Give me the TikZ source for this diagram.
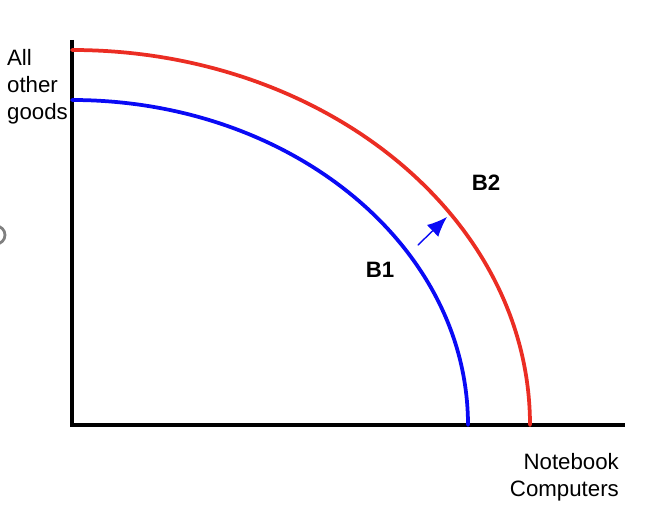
\documentclass[tikz,border=0pt]{standalone}
\usepackage{fontspec}
\setmainfont{Liberation Sans}
\usetikzlibrary{arrows.meta}

\definecolor{bred}{RGB}{235,45,35}
\definecolor{bblue}{RGB}{10,10,245}

\begin{document}
\begin{tikzpicture}[%
        > = {Latex[length = 17pt, width = 14pt]},
        line cap = round,
        x = 0.03cm,
        y = 0.03cm,
        axis/.style = {line width = 3.2pt, black, line cap = butt},
        curve/.style = {line width = 3.2pt},
        label/.style = {font = \fontsize{19}{23}\selectfont}
    ]

        % Fix the page size.
        \useasboundingbox (0, 0) rectangle (662, 518);

        % coordinates
        \coordinate (O) at (72, 93); % Origin.
        \coordinate (Y) at (72, 478); % Top of vertical axis.
        \coordinate (X) at (625, 93); % End of horizontal axis.
        \coordinate (R) at (72, 468); % Start of curve B2.
        \coordinate (B) at (72, 418); % Start of curve B1.
        \coordinate (S) at (418, 273); % Tail of the shift arrow.
        \coordinate (T) at (447, 301); % Head of the shift arrow.

        % Axes.
        \draw[axis] (Y) to (O) to (X);

        % Curves.
        \draw[curve, bred] (R) arc[start angle = 90, end angle = 0,
            x radius = 458, y radius = 375];
        \draw[curve, bblue] (B) arc[start angle = 90, end angle = 0,
            x radius = 396, y radius = 325];

        % Shift arrow.
        \draw[->, bblue, line width = 1.2pt] (S) to (T);

        % Various labels.
        \node[label, font = \fontsize{19}{23}\selectfont\bfseries] (b2) at (486, 335) {B2};
        \node[label, font = \fontsize{19}{23}\selectfont\bfseries] (b1) at (380, 248) {B1};
        \node[label, align = left, anchor = west] (yl) at (3, 431) {All\\other\\goods};
        \node[label, align = right, anchor = east] (xl) at (623, 41) {Notebook\\Computers};

        % Ring at the left edge.
        \begin{scope}
            \clip (0, 0) rectangle (662, 518);
            \draw[gray, line width = 2.4pt] (-4, 283) circle (9);
        \end{scope}
    \end{tikzpicture}
\end{document}
